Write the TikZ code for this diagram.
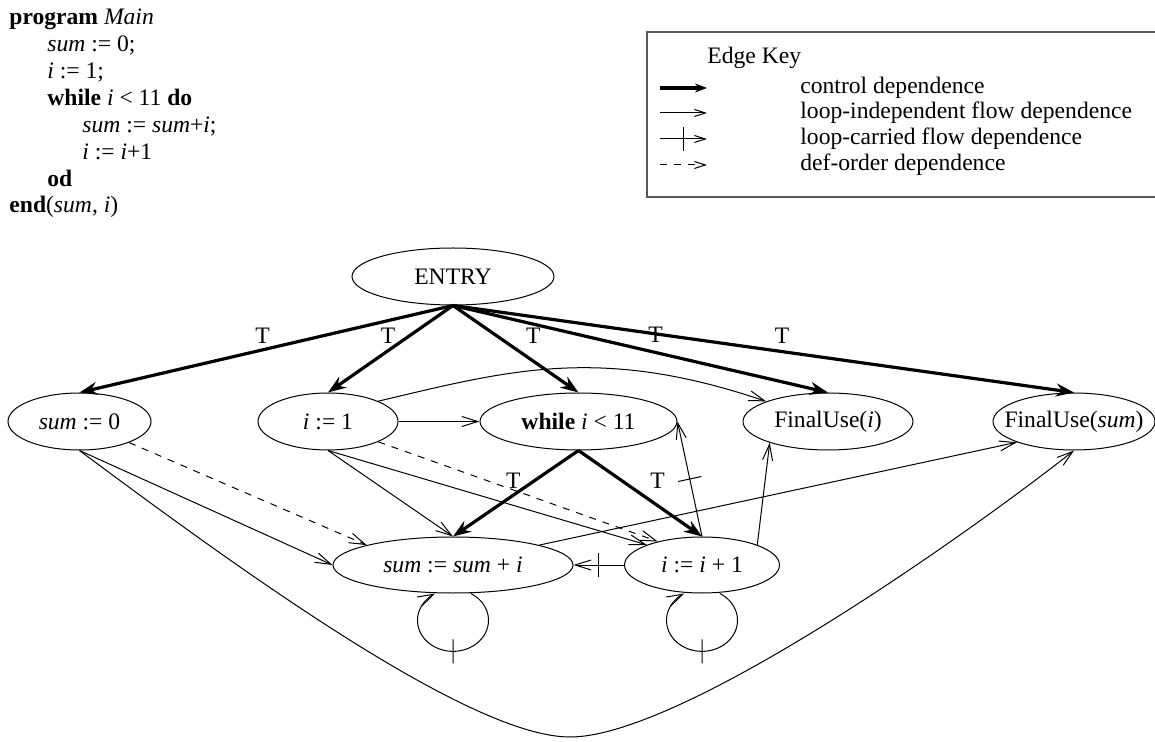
\documentclass[tikz,border=0pt]{standalone}
\usepackage{fontspec}
\setmainfont{Liberation Serif}
\usetikzlibrary{arrows.meta,shapes.geometric,decorations.markings}
\newcommand{\myunit}{0.5pt}
\newcommand{\gfont}{\fontsize{11.8pt}{13.4pt}\selectfont}
\tikzset{
    nodesty/.style={draw,ellipse,line width=0.5pt,inner xsep=-20pt,inner ysep=0pt,minimum height=28.5pt,font=\gfont},
    textsty/.style={anchor=base west,inner sep=0pt,font=\gfont},
    keysty/.style={anchor=west,inner sep=0pt,font=\gfont},
    tsty/.style={inner sep=0pt,font=\gfont},
    ctrlsty/.style={line width=1.6pt,-{Stealth[length=9pt,width=6.5pt,inset=3pt]}},
    flowsty/.style={line width=0.5pt,-{Straight Barb[length=8pt,width=5pt]}},
    carrysty/.style={flowsty,postaction={decorate,decoration={markings,mark=at position #1 with {\draw[-,line width=0.5pt] (0,-6pt) -- (0,6pt);}}}},
    carrysty/.default=0.5,
    defsty/.style={flowsty,dash pattern=on 3.5pt off 3.5pt},
    keytipsty/.style={-{Straight Barb[length=5.5pt,width=3.5pt]}},
    boxsty/.style={draw=black!65,line width=0.6pt},
    loopsty/.style={x radius=35.5,y radius=31,start angle=-60,end angle=240},
}

\begin{document}
\begin{tikzpicture}[x=\myunit,y=-\myunit]
  \useasboundingbox (0,0) rectangle (1155,742);

  \node[textsty] (p1) at (9,25) {\textbf{program} \textit{Main}};
  \node[textsty] (p2) at (47,52) {\textit{sum} := 0;};
  \node[textsty] (p3) at (47,79) {\textit{i} := 1;};
  \node[textsty] (p4) at (47,106) {\textbf{while} \textit{i} < 11 \textbf{do}};
  \node[textsty] (p5) at (82,133) {\textit{sum} := \textit{sum}+\textit{i};};
  \node[textsty] (p6) at (82,160) {\textit{i} := \textit{i}+1};
  \node[textsty] (p7) at (47,187) {\textbf{od}};
  \node[textsty] (p8) at (9,213) {\textbf{end}(\textit{sum}, \textit{i})};

  \draw[boxsty] (647,32) rectangle (1162,197);
  \node[keysty] (kt) at (707,57.5) {Edge Key};
  \coordinate (k1a) at (660,88);  \coordinate (k1b) at (707,88);
  \coordinate (k2a) at (660,113); \coordinate (k2b) at (707,113);
  \coordinate (k3a) at (660,139); \coordinate (k3b) at (707,139);
  \coordinate (k4a) at (660,165); \coordinate (k4b) at (707,165);
  \draw[ctrlsty,-{Stealth[length=6pt,width=4.5pt,inset=2pt]}] (k1a) -- (k1b);
  \draw[flowsty,keytipsty] (k2a) -- (k2b);
  \draw[carrysty,keytipsty] (k3a) -- (k3b);
  \draw[defsty,keytipsty] (k4a) -- (k4b);
  \node[keysty] (k1) at (800,88) {control dependence};
  \node[keysty] (k2) at (800,113) {loop-independent flow dependence};
  \node[keysty] (k3) at (800,139) {loop-carried flow dependence};
  \node[keysty] (k4) at (800,165) {def-order dependence};

  \node[nodesty,minimum width=101pt] (entry) at (453,276.5) {ENTRY};
  \node[nodesty,minimum width=71.5pt] (s0) at (79.5,421.5) {\textit{sum} := 0};
  \node[nodesty,minimum width=70pt] (i1) at (328,421.5) {\textit{i} := 1};
  \node[nodesty,minimum width=98.5pt] (wh) at (578.5,421.5) {\textbf{while} \textit{i} < 11};
  \node[nodesty,minimum width=85pt] (fui) at (828,421.5) {FinalUse(\textit{i})};
  \node[nodesty,minimum width=81pt] (fus) at (1074,421.5) {FinalUse(\textit{sum})};
  \node[nodesty,minimum width=120pt,minimum height=28pt] (ss) at (453,565) {\textit{sum} := \textit{sum} + \textit{i}};
  \node[nodesty,minimum width=77.5pt,minimum height=28pt] (ii) at (702,565) {\textit{i} := \textit{i} + 1};
  \coordinate (bot) at (570,737);

  \draw[ctrlsty] (entry.south) -- (s0.north) node[tsty,pos=0.51,above=2.5pt] (t1) {T};
  \draw[ctrlsty] (entry.south) -- (i1.north) node[tsty,pos=0.52,above=3pt] (t2) {T};
  \draw[ctrlsty] (entry.south) -- (wh.north) node[tsty,pos=0.64,above=8pt] (t3) {T};
  \draw[ctrlsty] (entry.south) -- (fui.north) node[tsty,pos=0.54,above=4pt] (t4) {T};
  \draw[ctrlsty] (entry.south) -- (fus.north) node[tsty,pos=0.53,above=3.5pt] (t5) {T};
  \draw[ctrlsty] (wh.south) -- (ss.north) node[tsty,pos=0.52,above=2.5pt] (t6) {T};
  \draw[ctrlsty] (wh.south) -- (ii.north) node[tsty,pos=0.64,above=7.5pt] (t7) {T};

  \draw[flowsty] (i1.east) -- (wh.west);
  \draw[flowsty] (i1.22) .. controls (510,370) and (600,345) .. (fui.162);
  \draw[flowsty] (i1.south) -- (ss.north);
  \draw[flowsty] (i1.south) -- (ii.160);
  \draw[flowsty] (s0.south) -- (ss.west);
  \draw[flowsty] (s0.south) .. controls (240,570) and (470,737) .. (bot)
                            .. controls (680,737) and (960,540) .. (fus.south);
  \draw[flowsty] (ss.13) -- (fus.200);
  \draw[flowsty] (ii.20) -- (fui.200);
  \draw[defsty] (s0.-23) -- (ss.167);
  \draw[defsty] (i1.-22) -- (ii.152);
  \draw[carrysty] (ii.north) -- (wh.east);
  \draw[carrysty] (ii.west) -- (ss.east);
  \draw[carrysty] ([shift={(17.75,0)}]ss.south) arc[loopsty];
  \draw[carrysty] ([shift={(17.75,0)}]ii.south) arc[loopsty];
\end{tikzpicture}
\end{document}
